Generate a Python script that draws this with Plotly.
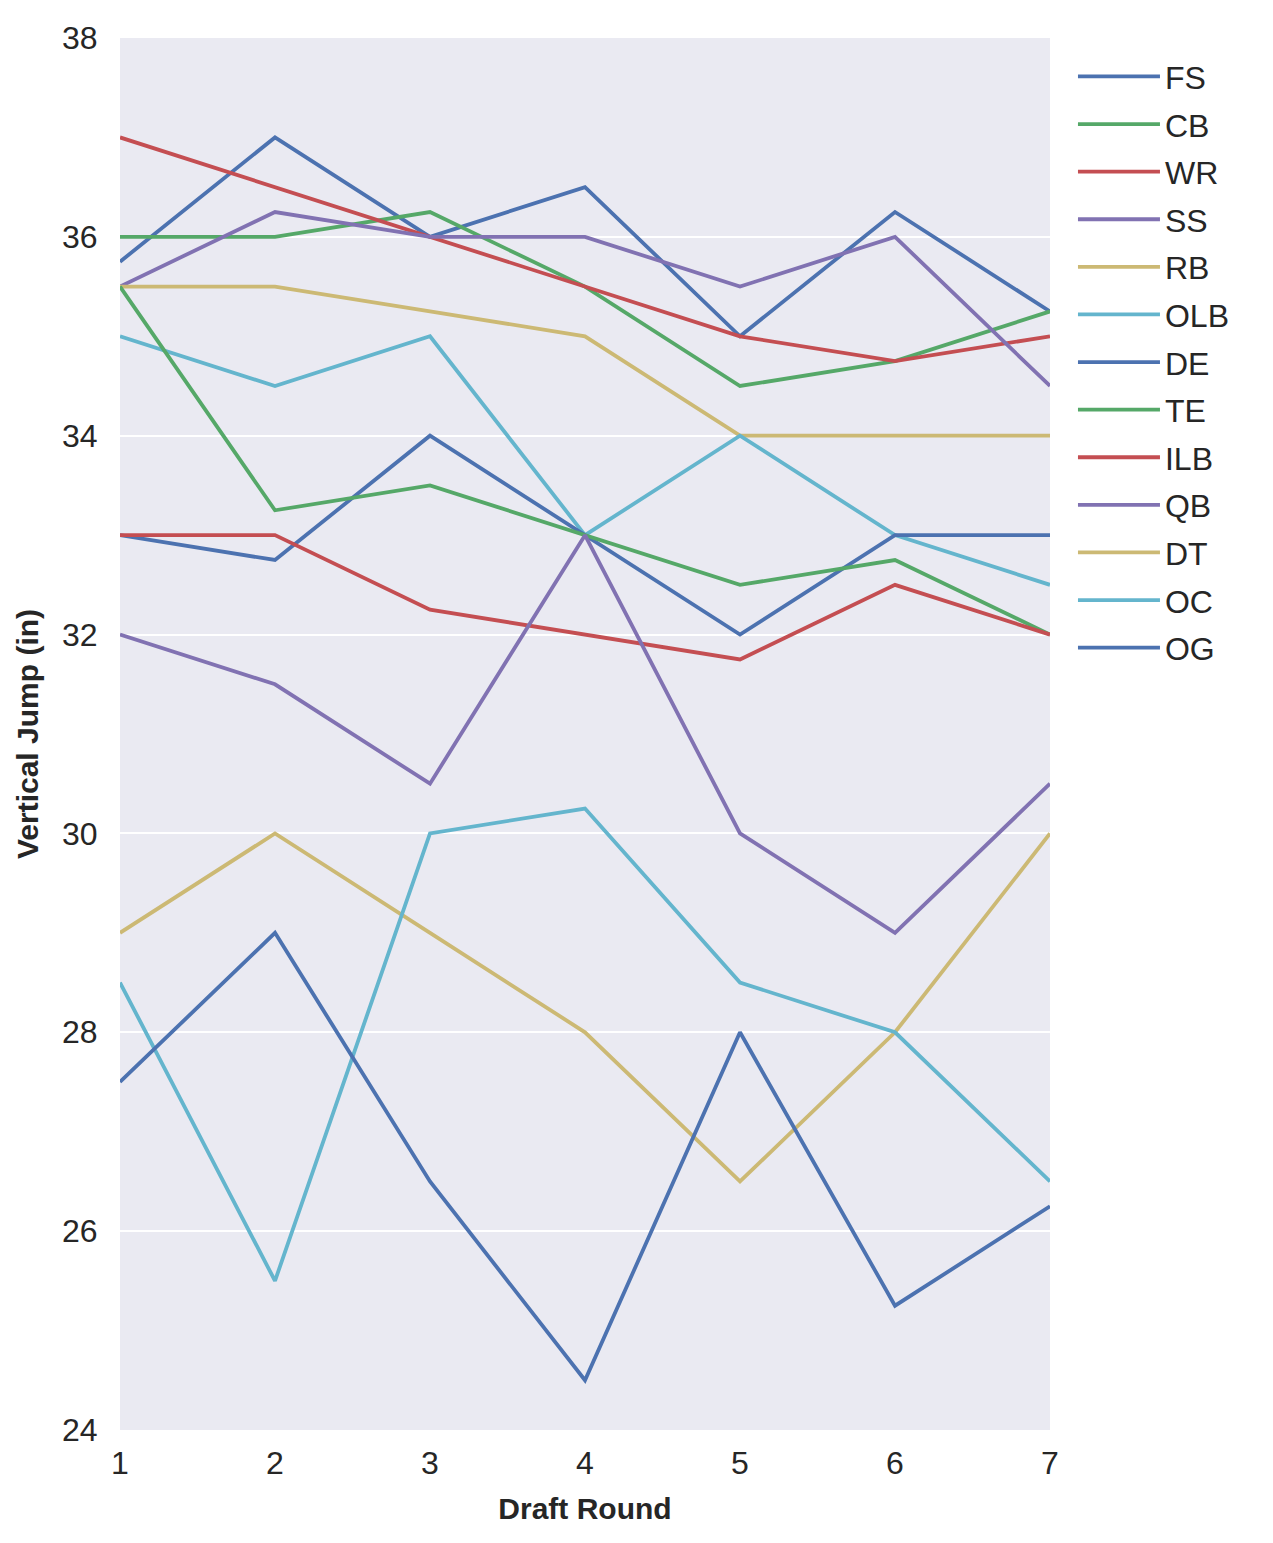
import plotly.graph_objects as go

rounds = [1, 2, 3, 4, 5, 6, 7]
positions = ["FS", "CB", "WR", "SS", "RB", "OLB", "DE", "TE", "ILB", "QB", "DT", "OC", "OG"]
FS = [35.75, 37.0, 36.0, 36.5, 35.0, 36.25, 35.25]
CB = [36.0, 36.0, 36.25, 35.5, 34.5, 34.75, 35.25]
WR = [37.0, 36.5, 36.0, 35.5, 35.0, 34.75, 35.0]
SS = [35.5, 36.25, 36.0, 36.0, 35.5, 36.0, 34.5]
RB = [35.5, 35.5, 35.25, 35.0, 34.0, 34.0, 34.0]
OLB = [35.0, 34.5, 35.0, 33.0, 34.0, 33.0, 32.5]
DE = [33.0, 32.75, 34.0, 33.0, 32.0, 33.0, 33.0]
TE = [35.5, 33.25, 33.5, 33.0, 32.5, 32.75, 32.0]
ILB = [33.0, 33.0, 32.25, 32.0, 31.75, 32.5, 32.0]
QB = [32.0, 31.5, 30.5, 33.0, 30.0, 29.0, 30.5]
DT = [29.0, 30.0, 29.0, 28.0, 26.5, 28.0, 30.0]
OC = [28.5, 25.5, 30.0, 30.25, 28.5, 28.0, 26.5]
OG = [27.5, 29.0, 26.5, 24.5, 28.0, 25.25, 26.25]
series = [FS, CB, WR, SS, RB, OLB, DE, TE, ILB, QB, DT, OC, OG]
y_ticks = [24, 26, 28, 30, 32, 34, 36, 38]

palette = ["#4C72B0", "#55A868", "#C44E52", "#8172B2", "#CCB974", "#64B5CD"]
FONT = "Liberation Sans, Arial, sans-serif"

fig = go.Figure()
for i, (name, vals) in enumerate(zip(positions, series)):
    fig.add_trace(go.Scatter(
        x=rounds, y=vals, mode="lines", name=name, legendgroup=name,
        line=dict(color=palette[i % len(palette)], width=3.8),
    ))

fig.update_layout(
    width=1265, height=1535,
    margin=dict(l=112, r=223, t=27, b=113),
    paper_bgcolor="white", plot_bgcolor="#EAEAF2",
    font=dict(family=FONT, size=32, color="#262626"),
    showlegend=True,
    legend=dict(
        x=1.0247, xanchor="left", y=0.992, yanchor="top",
        font=dict(size=32, color="#262626"),
        itemwidth=82, tracegroupgap=3,
        bgcolor="rgba(0,0,0,0)",
    ),
)
fig.update_xaxes(
    range=[1, 7], tickvals=rounds, showgrid=False, zeroline=False,
    ticks="outside", ticklen=5, tickcolor="rgba(0,0,0,0)",
    title=dict(text="<b>Draft Round</b>", font=dict(size=30), standoff=17),
    showline=False,
)
fig.update_yaxes(
    range=[24, 38], tickvals=y_ticks, showgrid=True, gridcolor="white", gridwidth=2,
    zeroline=False, ticks="outside", ticklen=15, tickcolor="rgba(0,0,0,0)",
    title=dict(text="<b>Vertical Jump (in)</b>", font=dict(size=30), standoff=14),
    showline=False,
)

fig.write_html("out.html")
